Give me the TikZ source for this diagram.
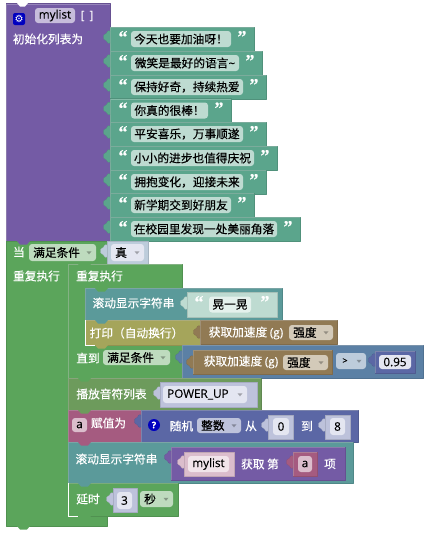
\documentclass[tikz,border=0pt]{standalone}
\usepackage{fontspec}
\setmainfont[RawFeature={embolden=0.35}]{Noto Sans CJK SC}
\newfontfamily\latinf[RawFeature={embolden=0.25}]{Open Sans}
\newfontfamily\quotef[RawFeature={embolden=0.6}]{Liberation Serif Bold}
\definecolor{cPurple}{HTML}{745BA5}
\definecolor{cStr}{HTML}{5BA58C}
\definecolor{cGreen}{HTML}{5BA55B}
\definecolor{cTeal}{HTML}{5B9A9A}
\definecolor{cOlive}{HTML}{A5A55B}
\definecolor{cBrown}{HTML}{917A54}
\definecolor{cBlue}{HTML}{5B80A5}
\definecolor{cMusic}{HTML}{6D9B5C}
\definecolor{cInd}{HTML}{5B67A5}
\definecolor{cPink}{HTML}{A55B80}
\definecolor{fStr}{HTML}{BEDBD1}
\definecolor{fGreen}{HTML}{BEDBBE}
\definecolor{fBrown}{HTML}{D3CAB9}
\definecolor{fPurple}{HTML}{C7BDDB}
\definecolor{fInd}{HTML}{BDC2DB}
\definecolor{fBlue}{HTML}{BDCCDB}
\definecolor{fPink}{HTML}{DBBDCC}
\definecolor{fPale}{HTML}{E4E6F1}
\definecolor{fPaleP}{HTML}{F1E4EA}
\definecolor{fPaleS}{HTML}{E4F1EC}
\tikzset{
  x=1pt,y=-1pt,
  lbl/.style={text=white,font=\fontsize{11.7}{12}\selectfont,inner sep=0pt},
  val/.style={text=black,font=\fontsize{11.7}{12}\selectfont,inner sep=0pt},
  qt/.style={text=white,font=\quotef\fontsize{18}{18}\selectfont,inner sep=0pt},
  edge/.style={line width=0.4pt,line join=round},
}
% block: x1 y1 x2 y2 fill
\newcommand{\blk}[5]{\path[fill=#5,draw=#5!88!black,edge] (#1,#2) rectangle (#3,#4);
  \draw[white,opacity=.25,line width=.5pt] (#1+.5,#4) -- (#1+.5,#2+.5) -- (#3,#2+.5);}
% left tab: x (block left) y (centre) colour
\newcommand{\tabb}[3]{\path[fill=#3,draw=#3!88!black,line width=.3pt,rounded corners=1.5pt] (#1,#2-6) -- (#1-3,#2-6.5) -- (#1-3,#2-3) -- (#1-6.5,#2-3) -- (#1-6.5,#2+3) -- (#1-3,#2+3) -- (#1-3,#2+6.5) -- (#1,#2+6);}
% statement notch: x y colour
\newcommand{\ntch}[3]{\path[fill=#3] (#1+10,#2) -- (#1+13,#2+3.5) -- (#1+20,#2+3.5) -- (#1+23,#2) -- cycle;}
% field: name x1 y1 x2 y2 colour text
\newcommand{\fld}[7]{\path[fill=#6,rounded corners=3pt] (#2,#3) rectangle (#4,#5);
  \node[val] (#1) at ({(#2+#4)/2},{(#3+#5)/2}) {#7};}
% dropdown: name x1 y1 x2 y2 colour text
\newcommand{\drp}[7]{\path[fill=#6,rounded corners=3pt] (#2,#3) rectangle (#4,#5);
  \node[val,anchor=west] (#1) at (#2+4,{(#3+#5)/2}) {#7};
  \path[fill=black,opacity=.3] (#4-9.5,{(#3+#5)/2-1.2}) -- (#4-4.5,{(#3+#5)/2-1.2}) -- (#4-7,{(#3+#5)/2+1.8}) -- cycle;}
% string row: name top right text
\newcommand{\strrow}[4]{\blk{110}{#2}{#3}{#2+24}{cStr}\tabb{110}{#2+10}{cStr}
  \node[qt] (#1o) at (123,#2+10) {“};
  \node[qt] (#1c) at (#3-12,#2+10) {”};
  \fld{#1}{131}{#2+4}{#3-23}{#2+20}{fStr}{#4}}
\begin{document}
\begin{tikzpicture}
\useasboundingbox[fill=white] (0,0) rectangle (428,533);
% outer list block
\blk{6}{3.5}{110}{241}{cPurple}
\path[fill=white] (17,3) -- (20,6.5) -- (25,6.5) -- (28,3) -- cycle;
\path[fill=blue!75!black,rounded corners=2pt] (13,13) rectangle (25,25);
\node[text=white,inner sep=0pt,font=\fontsize{10}{10}\selectfont] (gear) at (19,19) {\fontspec{DejaVu Sans}⚙};
\fld{ml}{35}{8}{75}{23}{fPurple}{\latinf mylist}
\node[lbl] (br) at (87,16) {\latinf [ \,]};
\node[lbl] (init) at (48,39) {初始化列表为};
\strrow{s1}{27}{254}{今天也要加油呀！}
\strrow{s2}{51}{262}{微笑是最好的语言\latinf\textasciitilde}
\strrow{s3}{75}{266}{保持好奇，持续热爱}
\strrow{s4}{98.5}{231}{你真的很棒！}
\strrow{s5}{122}{266}{平安喜乐，万事顺遂}
\strrow{s6}{146}{277}{小小的进步也值得庆祝}
\strrow{s7}{170}{266}{拥抱变化，迎接未来}
\strrow{s8}{193}{254}{新学期交到好朋友}
\strrow{s9}{217}{300}{在校园里发现一处美丽角落}
% outer while loop
\path[fill=cGreen,draw=cGreen!88!black,edge] (6,241) -- (107,241) -- (107,264) -- (68,264) -- (68,516) -- (107,516) -- (107,526) -- (6,526) -- cycle;
\ntch{7}{241}{cPurple}
\ntch{7}{526}{cGreen}
\node[lbl] (dang) at (19,252) {当};
\drp{w1}{29}{244}{96}{261}{fGreen}{满足条件}
\path[fill=fBlue,draw=fBlue!88!black,edge] (107,241) rectangle (148,264);
\tabb{107}{251}{fBlue}
\drp{tr}{111}{244}{144}{261}{fPale}{真}
\node[lbl] (rep1) at (36.5,276) {重复执行};
% inner repeat
\path[fill=cGreen,draw=cGreen!88!black,edge] (68,264) -- (182,264) -- (182,378) -- (68,378) -- cycle;
\draw[white,opacity=.3,line width=.5pt] (68.5,378) -- (68.5,264.5) -- (182,264.5);
\ntch{68}{264}{cGreen}
\node[lbl] (rep2) at (99.5,276) {重复执行};
% scroll
\blk{85}{288}{282}{320}{cTeal}
\ntch{85}{288}{cGreen}
\node[lbl] (sc1) at (133.5,303) {滚动显示字符串};
\path[fill=fStr,draw=fStr!88!black,edge] (187,292) rectangle (277,317);
\tabb{187}{303}{fStr}
\node[qt] (q1) at (199,302) {“};
\node[qt] (q2) at (265,302) {”};
\fld{hy}{209}{296.5}{251}{312.5}{fPaleS}{晃一晃}
% print
\blk{85}{320}{200}{345}{cOlive}
\ntch{85}{320}{cTeal}
\node[lbl] (pr) at (136.5,333) {打印（自动换行）};
\blk{200}{320}{337}{344.5}{cBrown}
\tabb{200}{332}{cBrown}
\node[lbl] (ac1) at (246,333) {获取加速度 {\latinf(g)}};
\drp{st1}{289}{325}{333}{340}{fBrown}{强度}
\ntch{85}{345}{cOlive}
\draw[white,line width=.7pt] (85.3,320) -- (85.3,345.4) -- (95,345.4);
% until
\node[lbl] (un) at (88,358) {直到};
\drp{c2}{103}{350}{170}{365}{fGreen}{满足条件}
\blk{182}{345}{423}{378}{cBlue}
\tabb{182}{357}{cBlue}
\blk{193}{350}{332}{374}{cBrown}
\tabb{193}{362}{cBrown}
\node[lbl] (ac2) at (241,362) {获取加速度 {\latinf(g)}};
\drp{st2}{283}{355}{328}{370}{fBrown}{强度}
\path[fill=fBlue,rounded corners=3pt] (336,353) rectangle (366,369);
\node[val,font=\latinf\fontsize{9}{9}\selectfont] (gt) at (345,361) {\textgreater};
\path[fill=black,opacity=.3] (356.5,359.8) -- (361.5,359.8) -- (359,362.8) -- cycle;
\blk{375}{351}{415}{373}{cInd}
\tabb{375}{360}{cInd}
\fld{n95}{379}{355}{411}{369}{fPale}{\latinf 0.95}
% play
\blk{68}{378}{261}{410}{cMusic}
\ntch{68}{378}{cGreen}
\node[lbl] (pl) at (111.5,394) {播放音符列表};
\path[fill=fInd,draw=fInd!88!black,edge] (160,382) rectangle (257,407);
\tabb{160}{393}{fInd}
\drp{pu}{163}{386}{247}{403}{fPale}{\latinf POWER\_UP}
% assign
\blk{68}{410}{141}{442}{cPink}
\ntch{68}{410}{cMusic}
\fld{a1}{72}{418}{87}{432}{fPink}{\latinf a}
\node[lbl] (as) at (108.5,423) {赋值为};
\blk{141}{410}{358}{442}{cInd}
\tabb{141}{421}{cInd}
\path[fill=blue!75!black] (154,425) circle (6);
\node[text=white,inner sep=0pt,font=\latinf\bfseries\fontsize{9}{9}\selectfont] (qm) at (154,425) {?};
\node[lbl] (rd) at (181.5,426) {随机};
\drp{it}{197}{418}{241}{433}{fInd}{整数}
\node[lbl] (fr) at (251,426) {从};
\path[fill=fInd,draw=fInd!88!black,edge] (268,415) rectangle (293,439);
\tabb{268}{425}{fInd}
\fld{n0}{273}{418}{289}{435}{fPale}{\latinf 0}
\node[lbl] (to) at (307,426) {到};
\path[fill=fInd,draw=fInd!88!black,edge] (325,415) rectangle (350,439);
\tabb{325}{425}{fInd}
\fld{n8}{330}{418}{345}{435}{fPale}{\latinf 8}
% scroll 2
\blk{68}{442}{353}{483}{cTeal}
\ntch{68}{442}{cPink}
\node[lbl] (sc2) at (116.5,459) {滚动显示字符串};
\blk{171}{447}{345}{480}{cPurple}
\tabb{171}{457}{cPurple}
\path[fill=fPink,draw=fPink!88!black,edge] (184,452) rectangle (234,476);
\tabb{184}{462}{fPink}
\fld{ml2}{188}{456}{229}{472}{fPaleP}{\latinf mylist}
\node[lbl] (gt2) at (260,464) {获取 第};
\blk{293}{452}{317}{476}{cPink}
\tabb{293}{462}{cPink}
\fld{a2}{298}{456}{312}{472}{fPink}{\latinf a}
\node[lbl] (it2) at (330,464) {项};
% delay
\blk{68}{483}{178}{516}{cGreen}
\ntch{68}{483}{cTeal}
\node[lbl] (de) at (88,499) {延时};
\path[fill=fInd,draw=fInd!88!black,edge] (113,488) rectangle (137,512);
\tabb{113}{499}{fInd}
\fld{n3}{117}{492}{132}{509}{fPale}{\latinf 3}
\drp{se}{140}{491}{173}{507}{fGreen}{秒}
\draw[white,line width=.7pt] (68.3,483) -- (68.3,516.4) -- (78,516.4);
\ntch{68}{516}{cGreen}
\end{tikzpicture}
\end{document}
